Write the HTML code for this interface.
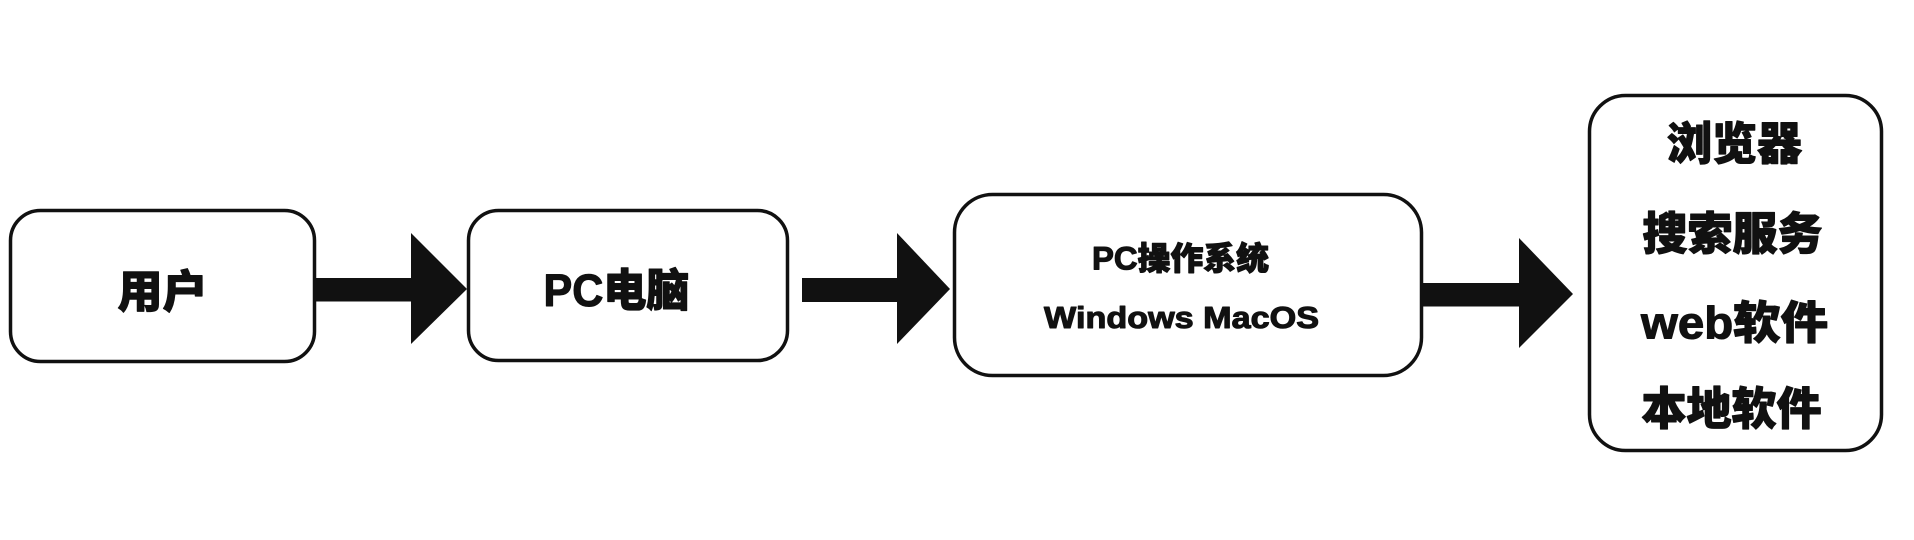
<!DOCTYPE html>
<html>
<head>
<meta charset="utf-8">
<style>
  html, body { margin: 0; padding: 0; background: #ffffff; }
  body { width: 1914px; height: 540px; overflow: hidden; }
  svg { display: block; }
  text { font-family: "Liberation Sans", "Noto Sans CJK SC", sans-serif; font-weight: 900; fill: #111; stroke: #111; stroke-width: 1.1px; stroke-linejoin: round; }
</style>
</head>
<body>
<svg width="1914" height="540" viewBox="0 0 1914 540" xmlns="http://www.w3.org/2000/svg">
  <rect x="0" y="0" width="1914" height="540" fill="#ffffff"/>

  <!-- Box 1 -->
  <rect x="10.5" y="210.5" width="304" height="151" rx="30" ry="30" fill="#fff" stroke="#111" stroke-width="3.5"/>
  <text x="162.5" y="307.5" font-size="45" text-anchor="middle">用户</text>

  <!-- Arrow 1 -->
  <rect x="316" y="278" width="96" height="23.5" fill="#111"/>
  <polygon points="411,233 411,344 467,289" fill="#111"/>

  <!-- Box 2 -->
  <rect x="468.5" y="210.5" width="319" height="150" rx="30" ry="30" fill="#fff" stroke="#111" stroke-width="3.5"/>
  <text x="616.5" y="306" font-size="45" text-anchor="middle" textLength="146" lengthAdjust="spacingAndGlyphs">PC电脑</text>

  <!-- Arrow 2 -->
  <rect x="802" y="278" width="96" height="24" fill="#111"/>
  <polygon points="897,233 897,344 950,289" fill="#111"/>

  <!-- Box 3 -->
  <rect x="954.5" y="194.5" width="467" height="181" rx="38" ry="38" fill="#fff" stroke="#111" stroke-width="3.5"/>
  <text x="1180.5" y="269.5" font-size="32" text-anchor="middle" textLength="177" lengthAdjust="spacingAndGlyphs">PC操作系统</text>
  <text x="1181.5" y="328" font-size="31" text-anchor="middle" textLength="275" lengthAdjust="spacingAndGlyphs">Windows MacOS</text>

  <!-- Arrow 3 -->
  <rect x="1423" y="283" width="97" height="23.5" fill="#111"/>
  <polygon points="1519,238 1519,348 1573,294" fill="#111"/>

  <!-- Box 4 -->
  <rect x="1589.5" y="95.5" width="292" height="355" rx="36" ry="36" fill="#fff" stroke="#111" stroke-width="3.5"/>
  <text x="1734.5" y="159.5" font-size="45" text-anchor="middle">浏览器</text>
  <text x="1732.5" y="249.5" font-size="45" text-anchor="middle">搜索服务</text>
  <text x="1734.5" y="338.5" font-size="45" text-anchor="middle" textLength="187" lengthAdjust="spacingAndGlyphs">web软件</text>
  <text x="1731.5" y="424.5" font-size="45" text-anchor="middle">本地软件</text>
</svg>
</body>
</html>
